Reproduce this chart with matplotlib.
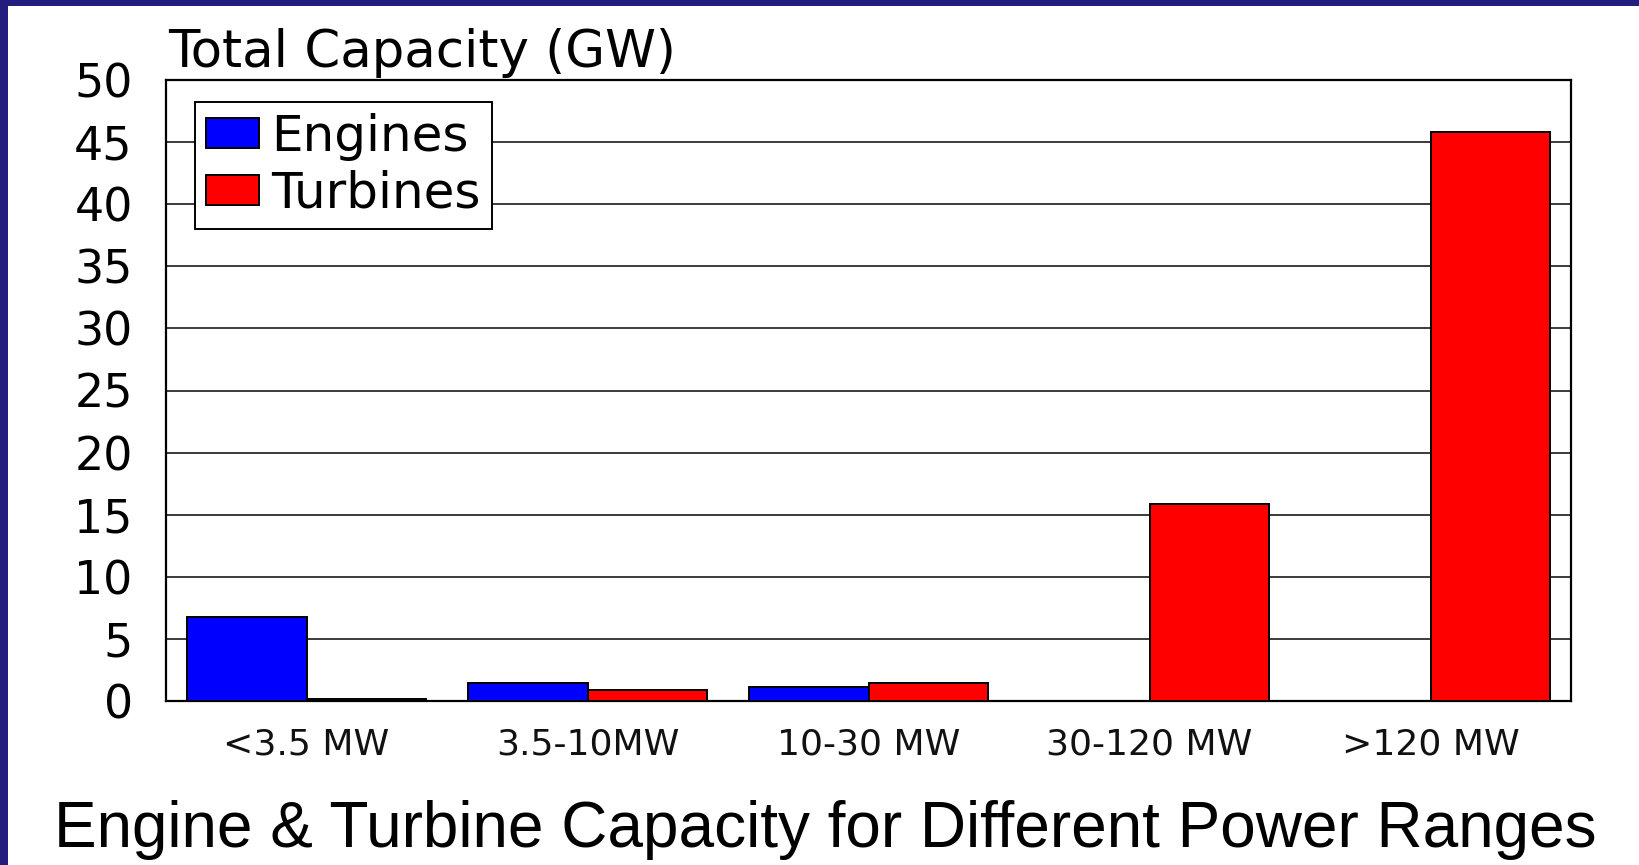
import matplotlib.pyplot as plt
from matplotlib.patches import Rectangle

# data
categories = ["<3.5 MW", "3.5-10MW", "10-30 MW", "30-120 MW", ">120 MW"]
engines = [6.8, 1.45, 1.1, 0.0, 0.0]
turbines = [0.2, 0.85, 1.45, 15.9, 45.8]
y_ticks = [0, 5, 10, 15, 20, 25, 30, 35, 40, 45, 50]

CHART_FONT = "DejaVu Sans"
CAPTION_FONT = "Liberation Sans"
SLIDE_BLUE = "#221D7E"


def plot_capacity():
    """Grouped bars of engine vs turbine capacity per power range."""
    fig = plt.figure(figsize=(16.39, 8.65), dpi=100)
    fig.patch.set_facecolor("white")

    # slide border (top and left strips)
    fig.add_artist(Rectangle((0, 1 - 6 / 865), 1, 6 / 865, transform=fig.transFigure,
                             facecolor=SLIDE_BLUE, edgecolor="none", zorder=0))
    fig.add_artist(Rectangle((0, 0), 8 / 1639, 1, transform=fig.transFigure,
                             facecolor=SLIDE_BLUE, edgecolor="none", zorder=0))

    ax = fig.add_axes([166 / 1639, 1 - 701 / 865, (1571 - 166) / 1639, (701 - 80) / 865])

    w = 0.426
    x = list(range(len(categories)))
    ax.bar([i - w / 2 for i in x], engines, width=w, color="#0000FF",
           edgecolor="black", linewidth=1.4, label="Engines", zorder=3)
    ax.bar([i + w / 2 for i in x], turbines, width=w, color="#FF0000",
           edgecolor="black", linewidth=1.4, label="Turbines", zorder=3)

    ax.set_xlim(-0.5, len(categories) - 0.5)
    ax.set_ylim(0, 50)
    ax.set_yticks(y_ticks)
    ax.set_yticklabels([str(v) for v in y_ticks], fontsize=33, family=CHART_FONT)
    ax.set_xticks(x)
    ax.set_xticklabels(categories, fontsize=26, family=CHART_FONT, color="#111111")
    ax.tick_params(axis="y", length=0, pad=24)
    ax.tick_params(axis="x", length=0, pad=19)

    ax.yaxis.grid(True, color="#1a1a1a", linewidth=1.2, zorder=1)
    ax.set_axisbelow(True)
    for s in ax.spines.values():
        s.set_color("black")
        s.set_linewidth(1.6)

    leg = ax.legend(loc="upper left", bbox_to_anchor=((195 - 166) / 1405, 1 - (102 - 80) / 621),
                    borderaxespad=0, prop={"family": CHART_FONT, "size": 36},
                    handlelength=1.05, handleheight=0.55, handletextpad=0.25,
                    borderpad=0.22, labelspacing=0.18, fancybox=False, framealpha=1)
    leg.get_frame().set_edgecolor("black")
    leg.get_frame().set_linewidth(1.4)

    fig.text(168 / 1639, 1 - 67 / 865, "Total Capacity (GW)", fontsize=37,
             family=CHART_FONT, ha="left", va="baseline")
    fig.text(825 / 1639, 1 - 847 / 865, "Engine & Turbine Capacity for Different Power Ranges",
             fontsize=46, family=CAPTION_FONT, ha="center", va="baseline")

    fig.savefig("out.png", dpi=100)


if __name__ == "__main__":
    plot_capacity()
